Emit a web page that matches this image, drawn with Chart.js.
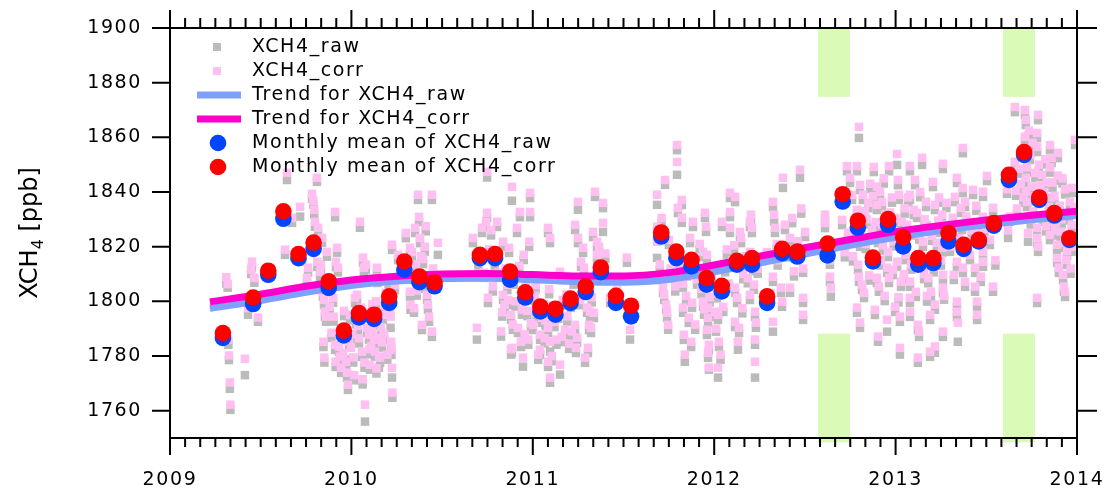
<!DOCTYPE html>
<html>
<head>
<meta charset="utf-8">
<title>XCH4</title>
<script src="https://cdn.jsdelivr.net/npm/chart.js@4.4.1/dist/chart.umd.min.js"></script>
<style>
	html, body { margin: 0; padding: 0; background: #fff; }
	canvas { display: block; }
</style>
</head>
<body>
<canvas id="xch4" width="1109" height="489"></canvas>
<script>
	// axes
	const xTickYears = [2009, 2010, 2011, 2012, 2013, 2014];
	const yTickValues = [1760, 1780, 1800, 1820, 1840, 1860, 1880, 1900];

	// periods shaded green (decimal years), upper and lower boxes in ppb
	const bandFrom = [2012.572, 2013.592];
	const bandTo = [2012.749, 2013.768];
	const bandUpper = [1874.8, 1900];
	const bandLower = [1748.4, 1788.2];

	// daily retrievals: time (decimal year), raw and corrected XCH4 (ppb)
	const obsTime = [
		2009.310, 2009.318, 2009.322, 2009.325, 2009.330, 2009.333, 2009.413, 2009.430, 2009.447, 2009.452, 2009.465, 2009.485,
		2009.634, 2009.645, 2009.673, 2009.717, 2009.728, 2009.755, 2009.761, 2009.783, 2009.790, 2009.795, 2009.799, 2009.810, 2009.812, 2009.816,
		2009.827, 2009.832, 2009.838, 2009.843, 2009.846, 2009.849, 2009.851, 2009.854, 2009.860, 2009.865,
		2009.899, 2009.902, 2009.910, 2009.910, 2009.913, 2009.915, 2009.921, 2009.926, 2009.932, 2009.937, 2009.943, 2009.965, 2009.970, 2009.976, 2009.981, 2009.987, 2009.998,
		2010.020, 2010.031, 2010.047, 2010.053, 2010.058, 2010.064, 2010.069, 2010.072, 2010.075, 2010.080, 2010.086, 2010.091, 2010.097, 2010.102, 2010.113, 2010.124, 2010.130, 2010.141, 2010.144, 2010.147, 2010.152, 2010.158, 2010.174, 2010.190, 2010.213, 2010.216, 2010.219, 2010.221, 2010.224, 2010.224, 2010.226, 2010.257,
		2009.992, 2010.005, 2010.010, 2010.036, 2010.042, 2010.108, 2010.119, 2010.135, 2010.163, 2010.169, 2010.185,
		2010.323, 2010.323, 2010.326, 2010.334, 2010.345, 2010.351, 2010.367, 2010.373, 2010.378, 2010.389, 2010.417, 2010.422, 2010.428, 2010.439, 2010.444, 2010.444, 2010.450, 2010.477,
		2010.340, 2010.356, 2010.395, 2010.400, 2010.405,
		2010.670, 2010.692, 2010.720, 2010.742, 2010.748, 2010.748, 2010.753, 2010.770, 2010.803, 2010.831, 2010.836, 2010.836, 2010.845, 2010.869, 2010.880, 2010.880, 2010.885, 2010.885, 2010.913, 2010.918, 2010.929, 2010.935, 2010.946, 2010.950, 2010.980, 2010.985, 2010.985,
		2010.790, 2010.815, 2010.850, 2010.860, 2010.895, 2010.905, 2010.925, 2010.960, 2010.970, 2010.990,
		2011.001, 2011.010, 2011.020, 2011.040, 2011.040, 2011.060, 2011.070, 2011.084, 2011.084, 2011.084, 2011.095, 2011.095, 2011.095, 2011.110, 2011.120, 2011.130, 2011.150, 2011.150, 2011.165, 2011.178, 2011.190, 2011.200, 2011.210, 2011.233, 2011.233, 2011.238, 2011.244, 2011.249, 2011.249,
		2011.266, 2011.277, 2011.282, 2011.288, 2011.299, 2011.304, 2011.310, 2011.315, 2011.321, 2011.332, 2011.337, 2011.343, 2011.354, 2011.354, 2011.365, 2011.387, 2011.387, 2011.426, 2011.465, 2011.519, 2011.530, 2011.536,
		2011.685, 2011.685, 2011.685, 2011.718, 2011.724, 2011.729, 2011.735, 2011.740, 2011.746, 2011.795, 2011.795, 2011.800, 2011.822, 2011.822, 2011.828, 2011.828, 2011.833, 2011.838, 2011.867, 2011.873, 2011.878, 2011.883, 2011.938, 2011.938, 2011.944, 2011.949, 2011.955, 2011.960, 2011.960, 2011.966, 2011.966, 2011.966, 2011.971, 2011.971,
		2011.760, 2011.775, 2011.810, 2011.850, 2011.890, 2011.905, 2011.920, 2011.985,
		2012.004, 2012.010, 2012.021, 2012.021, 2012.026, 2012.043, 2012.087, 2012.087, 2012.087, 2012.115, 2012.115, 2012.115, 2012.126, 2012.131, 2012.137, 2012.142, 2012.148, 2012.197, 2012.197, 2012.197, 2012.203, 2012.208, 2012.219, 2012.225, 2012.225, 2012.225, 2012.230,
		2012.324, 2012.324, 2012.324, 2012.330, 2012.335, 2012.368, 2012.374, 2012.379, 2012.418, 2012.418, 2012.473, 2012.490, 2012.490, 2012.490, 2012.501,
		2012.060, 2012.070, 2012.100, 2012.160, 2012.175, 2012.240, 2012.350, 2012.400, 2012.440, 2012.460,
		2012.611, 2012.611, 2012.638, 2012.638, 2012.643, 2012.705, 2012.732, 2012.738, 2012.749, 2012.760, 2012.787, 2012.787, 2012.787, 2012.793, 2012.798, 2012.798, 2012.804, 2012.804, 2012.804, 2012.815, 2012.820, 2012.826, 2012.831, 2012.840, 2012.860, 2012.870, 2012.870, 2012.880, 2012.886,
		2012.897, 2012.897, 2012.897, 2012.903, 2012.903, 2012.908, 2012.914, 2012.925, 2012.925, 2012.935, 2012.945, 2012.953, 2012.953, 2012.958, 2012.964, 2012.964, 2012.964, 2012.980, 2012.990, 2012.997, 2013.000, 2013.008, 2013.008, 2013.013, 2013.019, 2013.024, 2013.024, 2013.030, 2013.035, 2013.041, 2013.046, 2013.050,
		2013.063, 2013.079, 2013.079, 2013.079, 2013.079, 2013.079, 2013.090, 2013.107, 2013.112, 2013.118, 2013.123, 2013.123, 2013.129, 2013.135, 2013.140, 2013.146, 2013.151, 2013.157, 2013.168, 2013.173, 2013.173, 2013.185, 2013.190, 2013.190, 2013.195, 2013.200, 2013.206, 2013.217, 2013.217, 2013.217, 2013.228, 2013.228, 2013.240, 2013.256, 2013.256, 2013.261, 2013.261, 2013.261, 2013.261, 2013.267, 2013.272,
		2013.316, 2013.321, 2013.327, 2013.338, 2013.338, 2013.338, 2013.338, 2013.343, 2013.360, 2013.366, 2013.371, 2013.371, 2013.371, 2013.383, 2013.383, 2013.427, 2013.438, 2013.438, 2013.449, 2013.449, 2013.482, 2013.482, 2013.482, 2013.482, 2013.504, 2013.537, 2013.537,
		2013.395, 2013.410, 2013.460, 2013.470, 2013.520, 2013.550,
		2013.614, 2013.620, 2013.658, 2013.658, 2013.664, 2013.669, 2013.713, 2013.713, 2013.718, 2013.718, 2013.718, 2013.724, 2013.724, 2013.730, 2013.741, 2013.780, 2013.780, 2013.780, 2013.780, 2013.780, 2013.785, 2013.785, 2013.790, 2013.807, 2013.851, 2013.851, 2013.851, 2013.851, 2013.856, 2013.890, 2013.890, 2013.895, 2013.895, 2013.900, 2013.905, 2013.923, 2013.928, 2013.934, 2013.934, 2013.940, 2013.945, 2013.961, 2013.972, 2013.972, 2013.989,
		2013.690, 2013.700, 2013.750, 2013.760, 2013.770, 2013.800, 2013.815, 2013.825, 2013.835, 2013.870, 2013.880, 2013.915, 2013.950, 2013.980,
		2009.880, 2009.890, 2009.955, 2009.960, 2010.015, 2010.026, 2010.062, 2010.100, 2010.116, 2010.138,
		2010.180, 2010.198, 2010.205, 2010.240, 2010.300, 2010.310, 2010.360, 2010.385, 2010.410, 2010.700,
		2010.730, 2010.760, 2010.780, 2010.825, 2010.865, 2010.890, 2010.940, 2010.955, 2010.975, 2011.015,
		2011.030, 2011.050, 2011.065, 2011.090, 2011.105, 2011.140, 2011.160, 2011.185, 2011.215, 2011.225,
		2011.260, 2011.295, 2011.325, 2011.375, 2011.400, 2011.700, 2011.710, 2011.750, 2011.785, 2011.845,
		2011.860, 2011.895, 2011.930, 2011.975, 2012.015, 2012.035, 2012.050, 2012.080, 2012.110, 2012.155,
		2012.185, 2012.215, 2012.290, 2012.310, 2012.345, 2012.390, 2012.430, 2012.480, 2012.625, 2012.720,
		2012.765, 2012.775, 2012.810, 2012.835, 2012.850, 2012.855, 2012.875, 2012.890, 2012.918, 2012.930,
		2012.940, 2012.970, 2012.985, 2013.005, 2013.016, 2013.055, 2013.070, 2013.085, 2013.100, 2013.130,
		2013.160, 2013.180, 2013.210, 2013.235, 2013.250, 2013.280, 2013.300, 2013.350, 2013.390, 2013.420,
		2013.445, 2013.490, 2013.630, 2013.680, 2013.705, 2013.735, 2013.745, 2013.755, 2013.765, 2013.795,
		2013.820, 2013.830, 2013.845, 2013.860, 2013.865, 2013.875, 2013.885, 2013.910, 2013.920, 2013.930,
		2013.955, 2013.965, 2013.985
	];
	const obsCorr = [
		1808.8, 1806.3, 1786.0, 1780.2, 1770.3, 1762.2, 1779.0, 1797.5, 1811.6, 1814.5, 1808.6, 1794.1,
		1818.9, 1847.0, 1830.5, 1834.6, 1816.0, 1808.6, 1812.3, 1839.3, 1836.8, 1833.5, 1829.1, 1845.2, 1814.5, 1826.9,
		1810.8, 1813.4, 1823.2, 1803.5, 1785.2, 1800.6, 1779.4, 1796.2, 1794.4, 1818.1,
		1801.3, 1794.4, 1784.1, 1832.7, 1777.9, 1814.5, 1819.6, 1812.3, 1783.4, 1779.8, 1775.7, 1790.3, 1777.9, 1773.9, 1769.5, 1785.2, 1783.0,
		1801.3, 1802.4, 1829.1, 1797.7, 1781.6, 1816.0, 1812.3, 1777.6, 1762.2, 1813.4, 1790.3, 1795.8, 1787.8, 1776.8, 1789.6, 1786.0, 1781.6, 1812.3, 1808.6, 1786.7, 1779.8, 1779.4, 1795.1, 1803.1, 1797.2, 1794.4, 1785.2, 1782.3, 1775.7, 1820.7, 1766.6, 1817.0,
		1795.0, 1788.0, 1779.5, 1791.0, 1786.5, 1783.5, 1793.0, 1800.0, 1790.5, 1785.0, 1798.5,
		1819.6, 1803.5, 1798.8, 1818.1, 1797.5, 1826.9, 1839.0, 1830.9, 1823.2, 1791.4, 1802.4, 1798.8, 1794.4, 1808.5, 1839.0, 1788.9, 1812.0, 1821.4,
		1810.0, 1813.5, 1815.5, 1806.5, 1820.0,
		1823.2, 1790.3, 1826.9, 1829.1, 1832.4, 1847.4, 1801.3, 1826.0, 1829.1, 1796.0, 1821.8, 1802.4, 1798.8, 1819.6, 1795.1, 1782.5, 1841.9, 1783.0, 1826.9, 1790.3, 1832.7, 1785.2, 1779.4, 1817.0, 1821.8, 1839.7, 1832.7,
		1815.0, 1810.5, 1812.0, 1806.0, 1808.0, 1800.0, 1813.0, 1806.0, 1796.5, 1792.0,
		1791.4, 1802.0, 1795.5, 1787.8, 1782.3, 1799.0, 1793.0, 1826.9, 1790.3, 1777.9, 1823.2, 1785.2, 1772.1, 1798.5, 1792.5, 1786.0, 1776.8, 1810.8, 1800.5, 1789.6, 1794.5, 1784.5, 1799.5, 1828.0, 1791.4, 1783.0, 1786.7, 1836.4, 1823.2,
		1814.5, 1819.6, 1812.3, 1779.4, 1797.7, 1783.0, 1791.4, 1796.2, 1790.3, 1825.4, 1795.8, 1840.1, 1821.8, 1817.0, 1820.0, 1836.0, 1828.7, 1801.3, 1804.0, 1816.0, 1797.0, 1789.6,
		1839.0, 1827.3, 1821.8, 1805.0, 1802.4, 1844.4, 1798.8, 1795.8, 1791.4, 1857.2, 1851.0, 1834.2, 1837.1, 1830.6, 1806.5, 1797.7, 1787.8, 1780.5, 1823.2, 1785.2, 1799.5, 1829.1, 1818.1, 1799.9, 1797.1, 1832.4, 1827.3, 1817.0, 1789.6, 1797.7, 1794.0, 1781.2, 1784.1, 1775.8,
		1812.0, 1818.5, 1813.0, 1811.0, 1815.5, 1808.0, 1821.0, 1810.5,
		1796.2, 1790.0, 1795.1, 1775.7, 1785.2, 1829.1, 1839.7, 1832.7, 1826.9, 1838.2, 1805.0, 1792.5, 1801.3, 1785.2, 1790.3, 1825.4, 1823.2, 1829.1, 1818.1, 1802.4, 1831.7, 1826.9, 1806.1, 1796.2, 1786.0, 1777.9, 1792.2,
		1836.4, 1809.0, 1792.5, 1831.7, 1826.9, 1805.0, 1799.9, 1845.2, 1823.2, 1805.0, 1848.1, 1801.3, 1795.1, 1812.0, 1825.4,
		1812.5, 1819.0, 1815.0, 1810.0, 1816.5, 1812.0, 1815.0, 1818.0, 1811.0, 1822.0,
		1831.7, 1828.7, 1815.0, 1809.0, 1805.0, 1829.8, 1849.5, 1825.1, 1845.2, 1839.0, 1849.5, 1833.5, 1797.7, 1813.4, 1863.8, 1809.0, 1821.8, 1842.6, 1792.2, 1806.1, 1839.0, 1803.1, 1833.0, 1830.0, 1843.0, 1826.0, 1815.5, 1849.2, 1796.9,
		1835.3, 1808.6, 1842.0, 1823.2, 1787.1, 1805.4, 1840.1, 1836.4, 1828.0, 1845.0, 1832.0, 1812.3, 1793.3, 1818.1, 1826.9, 1849.5, 1808.6, 1838.0, 1822.0, 1798.0, 1830.5, 1853.9, 1814.5, 1844.4, 1839.0, 1794.4, 1783.0, 1807.2, 1829.1, 1821.8, 1810.0, 1834.0,
		1828.0, 1849.5, 1839.0, 1807.2, 1801.3, 1796.2, 1826.0, 1844.4, 1803.5, 1832.4, 1791.4, 1779.4, 1788.9, 1840.0, 1816.0, 1852.5, 1821.8, 1810.0, 1836.4, 1828.0, 1802.0, 1815.0, 1795.1, 1781.6, 1803.5, 1824.0, 1843.7, 1835.3, 1798.8, 1783.5, 1826.9, 1821.4, 1838.0, 1831.7, 1819.6, 1850.3, 1809.7, 1805.0, 1788.9, 1802.0, 1828.0,
		1830.6, 1809.7, 1838.2, 1845.2, 1814.5, 1799.9, 1796.2, 1792.2, 1834.2, 1828.0, 1856.1, 1841.5, 1812.3, 1836.4, 1807.2, 1840.8, 1812.3, 1805.4, 1799.9, 1795.1, 1840.1, 1830.9, 1818.1, 1814.5, 1845.9, 1834.2, 1805.4,
		1822.0, 1817.0, 1826.5, 1809.0, 1822.5, 1815.0,
		1841.0, 1826.0, 1871.1, 1851.0, 1840.5, 1834.0, 1870.0, 1860.2, 1866.4, 1845.2, 1840.1, 1836.4, 1849.0, 1825.0, 1853.6, 1861.6, 1856.5, 1826.9, 1823.2, 1801.3, 1868.2, 1820.0, 1850.0, 1846.3, 1857.2, 1849.0, 1829.1, 1824.3, 1838.0, 1820.7, 1815.9, 1854.3, 1846.0, 1812.3, 1835.0, 1809.7, 1805.4, 1803.5, 1841.0, 1815.2, 1818.5, 1836.4, 1841.5, 1828.0, 1859.1,
		1843.0, 1855.0, 1842.0, 1833.0, 1847.0, 1838.5, 1831.0, 1852.0, 1843.5, 1833.0, 1826.0, 1830.0, 1824.0, 1820.0,
		1798.0, 1788.5, 1781.0, 1796.5, 1773.0, 1793.5, 1771.5, 1782.5, 1799.0, 1775.5,
		1788.0, 1780.5, 1808.0, 1806.0, 1825.0, 1812.5, 1804.0, 1816.5, 1827.5, 1815.0,
		1810.5, 1819.0, 1805.5, 1789.0, 1800.5, 1791.5, 1797.0, 1788.0, 1786.0, 1806.0,
		1780.5, 1794.0, 1786.5, 1804.5, 1780.0, 1795.5, 1787.0, 1802.5, 1789.0, 1808.0,
		1800.5, 1806.5, 1801.5, 1810.0, 1817.5, 1813.5, 1830.5, 1822.5, 1805.5, 1802.0,
		1794.0, 1791.5, 1804.5, 1801.5, 1803.0, 1780.5, 1798.0, 1806.5, 1820.5, 1797.5,
		1808.5, 1813.0, 1818.0, 1803.0, 1821.0, 1828.0, 1830.5, 1834.0, 1820.0, 1818.0,
		1816.5, 1827.0, 1830.5, 1821.0, 1836.0, 1809.5, 1838.5, 1829.0, 1815.0, 1820.5,
		1802.0, 1832.5, 1811.5, 1823.0, 1801.5, 1817.0, 1838.0, 1813.5, 1833.5, 1824.5,
		1830.0, 1808.5, 1812.5, 1829.5, 1815.0, 1836.0, 1820.0, 1823.0, 1831.0, 1826.0,
		1835.0, 1826.5, 1831.0, 1848.5, 1838.0, 1862.5, 1830.0, 1858.0, 1838.5, 1842.5,
		1840.0, 1827.5, 1834.5, 1852.5, 1843.5, 1838.5, 1829.0, 1825.5, 1845.0, 1821.5,
		1831.5, 1812.0, 1834.5
	];
	const obsRaw = [
		1806.5, 1805.0, 1784.1, 1778.5, 1768.0, 1760.3, 1773.0, 1795.1, 1810.0, 1812.5, 1806.8, 1792.5,
		1817.0, 1844.4, 1828.7, 1831.0, 1814.5, 1806.8, 1810.5, 1837.5, 1835.3, 1831.8, 1827.3, 1843.7, 1812.6, 1825.0,
		1809.0, 1811.6, 1821.4, 1801.7, 1783.3, 1798.6, 1777.6, 1794.4, 1792.5, 1816.3,
		1799.5, 1792.6, 1782.2, 1830.8, 1776.0, 1812.5, 1817.8, 1810.6, 1781.5, 1778.0, 1773.8, 1788.4, 1776.0, 1772.0, 1767.6, 1783.3, 1778.7,
		1799.4, 1800.6, 1826.9, 1795.8, 1779.7, 1814.2, 1810.5, 1775.7, 1756.0, 1811.6, 1788.4, 1793.9, 1785.9, 1775.0, 1787.7, 1784.1, 1779.7, 1810.4, 1806.7, 1784.8, 1775.7, 1777.5, 1793.2, 1801.2, 1795.1, 1790.3, 1783.3, 1780.4, 1772.1, 1818.8, 1764.7, 1815.1,
		1793.1, 1786.1, 1777.6, 1789.1, 1784.6, 1781.6, 1791.1, 1798.1, 1788.6, 1783.1, 1796.6,
		1817.7, 1801.6, 1796.9, 1815.9, 1795.8, 1825.0, 1837.1, 1829.0, 1821.3, 1789.5, 1800.5, 1796.9, 1792.5, 1806.6, 1837.1, 1787.0, 1810.1, 1817.0,
		1808.1, 1811.6, 1813.6, 1804.6, 1818.1,
		1821.3, 1786.0, 1825.0, 1827.2, 1830.5, 1845.3, 1799.4, 1824.1, 1827.2, 1794.4, 1819.9, 1800.5, 1796.9, 1817.7, 1793.2, 1780.5, 1836.8, 1781.1, 1825.0, 1788.4, 1830.8, 1783.3, 1776.1, 1815.1, 1819.9, 1837.8, 1830.8,
		1813.1, 1808.6, 1810.1, 1804.1, 1806.1, 1798.1, 1811.1, 1804.1, 1794.6, 1790.1,
		1789.5, 1800.1, 1793.6, 1785.9, 1780.4, 1797.1, 1791.1, 1825.0, 1788.4, 1776.0, 1821.3, 1781.6, 1770.2, 1796.6, 1790.6, 1784.1, 1773.2, 1808.9, 1798.6, 1787.7, 1792.6, 1782.6, 1797.6, 1826.1, 1789.5, 1781.1, 1784.8, 1833.5, 1821.3,
		1812.6, 1817.7, 1810.4, 1777.5, 1795.8, 1781.1, 1789.5, 1794.3, 1788.4, 1823.5, 1793.9, 1838.2, 1819.9, 1815.1, 1818.1, 1834.1, 1825.4, 1799.4, 1802.1, 1814.1, 1795.1, 1786.0,
		1835.3, 1825.4, 1815.9, 1803.1, 1800.5, 1842.6, 1796.9, 1793.9, 1789.6, 1855.3, 1846.3, 1832.3, 1835.2, 1828.7, 1805.0, 1795.8, 1785.9, 1777.9, 1821.3, 1783.3, 1797.6, 1827.2, 1816.2, 1798.0, 1795.1, 1830.5, 1825.4, 1815.1, 1787.7, 1795.8, 1792.1, 1779.3, 1782.2, 1775.0,
		1810.1, 1816.6, 1811.1, 1809.1, 1813.6, 1806.1, 1819.1, 1808.6,
		1794.3, 1788.9, 1793.2, 1772.1, 1783.3, 1827.2, 1837.8, 1830.8, 1825.0, 1836.3, 1803.1, 1790.6, 1799.4, 1782.3, 1788.4, 1823.5, 1821.3, 1827.2, 1816.2, 1800.5, 1829.8, 1825.0, 1804.2, 1794.3, 1784.1, 1772.1, 1790.3,
		1834.5, 1807.1, 1788.9, 1829.1, 1825.0, 1803.1, 1798.0, 1841.5, 1821.3, 1803.1, 1845.2, 1799.4, 1793.2, 1810.4, 1823.5,
		1810.6, 1817.1, 1813.1, 1808.1, 1814.6, 1810.1, 1813.1, 1816.1, 1809.1, 1820.1,
		1829.8, 1826.8, 1813.4, 1807.1, 1801.7, 1827.9, 1847.6, 1823.2, 1843.3, 1837.1, 1847.6, 1831.6, 1795.8, 1811.5, 1859.8, 1807.1, 1819.9, 1840.7, 1790.3, 1804.2, 1837.1, 1801.2, 1831.1, 1828.1, 1841.1, 1824.1, 1813.6, 1847.3, 1795.0,
		1833.4, 1806.7, 1840.1, 1821.3, 1785.2, 1803.5, 1838.2, 1834.5, 1826.1, 1843.1, 1830.1, 1810.4, 1788.9, 1816.2, 1825.0, 1847.6, 1806.7, 1836.1, 1820.1, 1796.1, 1828.6, 1849.9, 1812.6, 1842.5, 1837.1, 1792.5, 1780.5, 1805.3, 1827.2, 1819.9, 1808.1, 1832.1,
		1826.1, 1847.6, 1837.1, 1805.3, 1799.4, 1794.3, 1824.1, 1842.5, 1801.6, 1830.5, 1789.5, 1777.5, 1787.0, 1838.1, 1814.1, 1849.9, 1819.9, 1808.1, 1834.5, 1826.1, 1799.9, 1813.1, 1793.2, 1779.7, 1801.6, 1822.1, 1841.8, 1833.4, 1796.9, 1781.2, 1825.0, 1819.5, 1836.1, 1829.8, 1817.7, 1848.4, 1807.8, 1803.1, 1787.0, 1800.6, 1826.1,
		1828.7, 1807.8, 1836.3, 1843.3, 1812.6, 1798.0, 1794.3, 1785.2, 1832.3, 1826.1, 1854.2, 1839.6, 1810.4, 1834.5, 1805.3, 1838.9, 1810.4, 1803.5, 1798.0, 1793.2, 1838.2, 1829.0, 1816.2, 1812.6, 1844.0, 1832.3, 1803.5,
		1820.1, 1815.1, 1824.6, 1807.1, 1820.6, 1813.1,
		1839.3, 1823.2, 1869.2, 1849.1, 1838.6, 1832.1, 1868.1, 1858.3, 1864.5, 1843.3, 1838.2, 1834.5, 1847.1, 1821.8, 1851.7, 1859.7, 1854.6, 1825.0, 1821.3, 1799.4, 1866.3, 1818.1, 1848.1, 1844.4, 1855.3, 1847.1, 1827.2, 1822.4, 1836.1, 1818.8, 1814.0, 1852.4, 1844.1, 1810.4, 1833.1, 1807.8, 1803.5, 1801.6, 1839.1, 1813.3, 1816.6, 1834.5, 1839.6, 1826.1, 1857.2,
		1841.1, 1853.1, 1840.1, 1831.1, 1845.1, 1836.6, 1829.1, 1850.1, 1841.6, 1831.1, 1824.1, 1828.1, 1822.1, 1818.1,
		1796.1, 1786.6, 1779.1, 1794.6, 1771.1, 1791.6, 1769.6, 1780.6, 1797.1, 1773.6,
		1786.1, 1778.6, 1806.1, 1804.1, 1823.1, 1810.6, 1802.1, 1814.6, 1825.6, 1813.1,
		1808.6, 1817.1, 1803.6, 1787.1, 1798.6, 1789.6, 1795.1, 1786.1, 1784.1, 1804.1,
		1778.6, 1792.1, 1784.6, 1802.6, 1778.1, 1793.6, 1785.1, 1800.6, 1787.1, 1806.1,
		1798.6, 1804.6, 1799.6, 1808.1, 1815.6, 1811.6, 1828.6, 1820.6, 1803.6, 1800.1,
		1792.1, 1789.6, 1802.6, 1799.6, 1801.1, 1778.6, 1796.1, 1804.6, 1818.6, 1795.6,
		1806.6, 1811.1, 1816.1, 1801.1, 1819.1, 1826.1, 1828.6, 1832.1, 1818.1, 1816.1,
		1814.6, 1825.1, 1828.6, 1819.1, 1834.1, 1807.6, 1836.6, 1827.1, 1813.1, 1818.6,
		1800.1, 1830.6, 1809.6, 1821.1, 1799.6, 1815.1, 1836.1, 1811.6, 1831.6, 1822.6,
		1828.1, 1806.6, 1810.6, 1827.6, 1813.1, 1834.1, 1818.1, 1821.1, 1829.1, 1824.1,
		1833.1, 1824.6, 1829.1, 1846.6, 1836.1, 1860.6, 1828.1, 1856.1, 1836.6, 1840.6,
		1838.1, 1825.6, 1832.6, 1850.6, 1841.6, 1836.6, 1827.1, 1823.6, 1843.1, 1819.6,
		1829.6, 1810.1, 1832.6
	];

	// monthly means (ppb)
	const months = [
		'2009-04', '2009-06', '2009-07', '2009-08', '2009-09', '2009-10', '2009-11', '2009-12',
		'2010-01', '2010-02', '2010-03', '2010-04', '2010-05', '2010-06', '2010-09', '2010-10', '2010-11', '2010-12',
		'2011-01', '2011-02', '2011-03', '2011-04', '2011-05', '2011-06', '2011-07', '2011-09', '2011-10', '2011-11', '2011-12',
		'2012-01', '2012-02', '2012-03', '2012-04', '2012-05', '2012-06', '2012-08', '2012-09', '2012-10', '2012-11', '2012-12',
		'2013-01', '2013-02', '2013-03', '2013-04', '2013-05', '2013-06', '2013-07', '2013-08', '2013-09', '2013-10', '2013-11', '2013-12'
	];
	const monthlyRaw = [
		1786.6, 1799.0, 1809.7, 1830.2, 1815.8, 1819.2, 1804.9, 1787.5,
		1794.1, 1793.6, 1799.4, 1811.6, 1807.0, 1805.5, 1815.8, 1815.8, 1807.9, 1801.4,
		1796.3, 1795.1, 1799.4, 1803.4, 1810.7, 1799.4, 1794.5, 1823.7, 1815.8, 1812.8, 1806.1,
		1803.6, 1813.4, 1813.4, 1799.4, 1817.6, 1816.4, 1816.8, 1836.5, 1827.0, 1814.6, 1828.0,
		1820.1, 1813.4, 1814.0, 1821.9, 1819.2, 1821.9, 1827.7, 1844.4, 1853.6, 1837.1, 1831.4, 1822.5
	];
	const monthlyCorr = [
		1788.4, 1801.4, 1811.2, 1832.9, 1817.3, 1821.5, 1807.3, 1789.3,
		1795.7, 1795.1, 1801.8, 1814.6, 1809.1, 1806.9, 1817.0, 1817.3, 1810.9, 1803.3,
		1798.1, 1797.3, 1801.0, 1805.5, 1812.4, 1802.0, 1798.4, 1825.2, 1818.2, 1815.2, 1808.5,
		1805.7, 1814.8, 1815.8, 1801.8, 1819.2, 1818.2, 1821.1, 1839.2, 1829.5, 1816.0, 1830.1,
		1823.4, 1815.8, 1815.8, 1825.0, 1820.7, 1822.5, 1828.6, 1846.3, 1854.6, 1838.0, 1832.3, 1823.1
	];

	// smoothed trend curves
	const trendTime = [2009.22, 2009.5, 2009.75, 2010.0, 2010.25, 2010.5, 2010.75, 2011.0, 2011.25, 2011.5, 2011.75, 2012.0, 2012.25, 2012.5, 2012.75, 2013.0, 2013.25, 2013.5, 2013.75, 2014.0];
	const trendRaw = [1797.4, 1800.3, 1803.3, 1805.8, 1807.4, 1808.3, 1808.4, 1807.9, 1807.2, 1807.0, 1808.0, 1810.8, 1814.0, 1817.3, 1820.5, 1823.4, 1825.9, 1828.0, 1829.8, 1831.4];
	const trendCorr = [1799.8, 1802.6, 1805.5, 1807.8, 1809.2, 1810.0, 1810.2, 1809.8, 1809.3, 1809.3, 1810.5, 1813.3, 1816.5, 1819.6, 1822.6, 1825.5, 1827.8, 1829.8, 1831.5, 1833.0];

	const FONT = 'DejaVu Sans';

	// '2010-04' -> middle of the month as a decimal year
	function monthMid(s) {
		const [y, m] = s.split('-').map(Number);
		return y + (m - 0.5) / 12;
	}
	const pairs = (xs, ys) => xs.map((x, i) => ({x: x, y: ys[i]}));

	const datasets = [
		{label: 'XCH4_raw', data: pairs(obsTime, obsRaw), backgroundColor: '#bbbbbb', pointStyle: 'rect', pointRadius: 6, borderWidth: 0, order: 6, legendKind: 'rect'},
		{label: 'XCH4_corr', data: pairs(obsTime, obsCorr), backgroundColor: '#ffbff0', pointStyle: 'rect', pointRadius: 6, borderWidth: 0, order: 5, legendKind: 'rect'},
		{label: 'Trend for XCH4_raw', data: pairs(trendTime, trendRaw), showLine: true, borderColor: '#80a0ff', borderWidth: 7, pointRadius: 0, cubicInterpolationMode: 'monotone', order: 4, legendKind: 'line'},
		{label: 'Trend for XCH4_corr', data: pairs(trendTime, trendCorr), showLine: true, borderColor: '#ff00cc', borderWidth: 7, pointRadius: 0, cubicInterpolationMode: 'monotone', order: 3, legendKind: 'line'},
		{label: 'Monthly mean of XCH4_raw', data: pairs(months.map(monthMid), monthlyRaw), backgroundColor: '#0044ff', pointRadius: 8.3, borderWidth: 0, order: 2, legendKind: 'circle'},
		{label: 'Monthly mean of XCH4_corr', data: pairs(months.map(monthMid), monthlyCorr), backgroundColor: '#ff0000', pointRadius: 8.3, borderWidth: 0, order: 1, legendKind: 'circle'}
	];

	// shaded periods, frame with outward ticks, legend and y title
	const decor = {
		id: 'decor',
		beforeDraw(chart) {
			chart.ctx.letterSpacing = '1.6px';
		},
		beforeDatasetsDraw(chart) {
			const {ctx, scales: {x, y}} = chart;
			ctx.save();
			ctx.fillStyle = '#dafab8';
			for (let i = 0; i < bandFrom.length; i++) {
				const x0 = x.getPixelForValue(bandFrom[i]), x1 = x.getPixelForValue(bandTo[i]);
				for (const [lo, hi] of [bandUpper, bandLower]) {
					const y0 = y.getPixelForValue(hi), y1 = y.getPixelForValue(lo);
					ctx.fillRect(x0, y0, x1 - x0, y1 - y0);
				}
			}
			ctx.restore();
		},
		afterDatasetsDraw(chart) {
			const {ctx, chartArea: a, scales: {x, y}} = chart;
			ctx.save();
			ctx.strokeStyle = '#000';
			ctx.lineWidth = 2;
			ctx.strokeRect(a.left, a.top, a.right - a.left, a.bottom - a.top);
			ctx.beginPath();
			for (const v of yTickValues) {
				const py = y.getPixelForValue(v);
				ctx.moveTo(a.left - 18, py); ctx.lineTo(a.left, py);
				ctx.moveTo(a.right, py); ctx.lineTo(a.right + 20, py);
			}
			const first = xTickYears[0], last = xTickYears[xTickYears.length - 1];
			for (let m = 0; m <= (last - first) * 12; m++) {
				const px = x.getPixelForValue(first + m / 12);
				const major = m % 12 === 0;
				ctx.moveTo(px, a.top); ctx.lineTo(px, a.top - (major ? 18 : 10));
				ctx.moveTo(px, a.bottom); ctx.lineTo(px, a.bottom + (major ? 17 : 9));
			}
			ctx.stroke();

			// legend inside the plot
			ctx.font = '19px "' + FONT + '"';
			ctx.textBaseline = 'middle';
			ctx.textAlign = 'left';
			chart.data.datasets.forEach((ds, i) => {
				const cy = a.top + 19 + i * 24;
				const cx = a.left + 47;
				if (ds.legendKind === 'rect') {
					ctx.fillStyle = ds.backgroundColor;
					ctx.fillRect(cx - 4, cy - 4, 8, 8);
				} else if (ds.legendKind === 'line') {
					ctx.fillStyle = ds.borderColor;
					ctx.fillRect(a.left + 27, cy - 3.5, 44, 7);
				} else {
					ctx.fillStyle = ds.backgroundColor;
					ctx.beginPath();
					ctx.arc(cx + 1, cy, 8.3, 0, Math.PI * 2);
					ctx.fill();
				}
				ctx.fillStyle = '#000';
				ctx.fillText(ds.label, a.left + 82, cy);
			});
			ctx.restore();
		},
		afterDraw(chart) {
			const {ctx, chartArea: a} = chart;
			ctx.save();
			ctx.letterSpacing = '0px';
			ctx.fillStyle = '#000';
			ctx.textBaseline = 'alphabetic';
			ctx.textAlign = 'left';
			const big = '24px "' + FONT + '"', small = '16px "' + FONT + '"';
			ctx.font = big;
			const w1 = ctx.measureText('XCH').width, w3 = ctx.measureText(' [ppb]').width;
			ctx.font = small;
			const w2 = ctx.measureText('4').width;
			ctx.translate(36.5, (a.top + a.bottom) / 2);
			ctx.rotate(-Math.PI / 2);
			const x0 = -(w1 + w2 + w3) / 2;
			ctx.font = big;
			ctx.fillText('XCH', x0, 0);
			ctx.font = small;
			ctx.fillText('4', x0 + w1, 6);
			ctx.font = big;
			ctx.fillText(' [ppb]', x0 + w1 + w2, 0);
			ctx.restore();
		}
	};

	const tickFont = {family: FONT, size: 19};

	new Chart(document.getElementById('xch4').getContext('2d'), {
		type: 'scatter',
		data: {datasets: datasets},
		options: {
			responsive: false,
			animation: false,
			devicePixelRatio: 1,
			layout: {padding: {top: 28, right: 32, left: 0, bottom: 0}},
			plugins: {legend: {display: false}, tooltip: {enabled: false}},
			scales: {
				x: {
					type: 'linear',
					min: xTickYears[0],
					max: xTickYears[xTickYears.length - 1],
					afterBuildTicks: s => { s.ticks = xTickYears.map(v => ({value: v})); },
					afterFit: s => { s.height = 51; s.paddingLeft = 0; s.paddingRight = 0; },
					grid: {display: false, drawTicks: false},
					border: {display: false},
					ticks: {font: tickFont, color: '#000', padding: 31, maxRotation: 0, callback: v => String(v)}
				},
				y: {
					type: 'linear',
					min: 1750,
					max: 1900,
					afterBuildTicks: s => { s.ticks = yTickValues.map(v => ({value: v})); },
					afterFit: s => { s.width = 170; s.paddingTop = 0; s.paddingBottom = 0; },
					grid: {display: false, drawTicks: false},
					border: {display: false},
					ticks: {font: tickFont, color: '#000', padding: 28, callback: v => String(v)}
				}
			}
		},
		plugins: [decor]
	});
</script>
</body>
</html>
